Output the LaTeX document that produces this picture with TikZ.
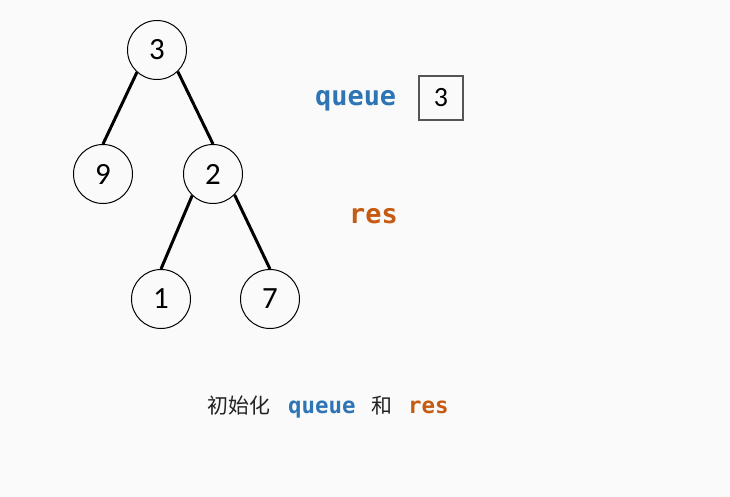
\documentclass[tikz,border=0pt]{standalone}
\usepackage{fontspec}
\setmainfont{Carlito}
\newfontfamily\codefont{DejaVu Sans Mono}
\newfontfamily\cjk{Noto Sans CJK SC}
\definecolor{bg}{HTML}{FAFAFA}
\definecolor{qblue}{HTML}{2E75B6}
\definecolor{rorange}{HTML}{C55A11}
\definecolor{boxgray}{HTML}{555555}
\definecolor{txt}{HTML}{222222}
\tikzset{
  treenode/.style={circle, draw=black, line width=1pt, minimum size=59bp, inner sep=0pt, font=\fontsize{31}{31}\selectfont},
  treeedge/.style={line width=3pt, black},
  qbox/.style={draw=boxgray, line width=1.2pt, minimum size=44bp, inner sep=0pt, font=\fontsize{28}{28}\selectfont},
  qlabel/.style={text=qblue, font=\codefont\bfseries\fontsize{27}{27}\selectfont, inner sep=0pt},
  rlabel/.style={text=rorange, font=\codefont\bfseries\fontsize{27}{27}\selectfont, inner sep=0pt},
}
\begin{document}
\begin{tikzpicture}[x=1bp,y=-1bp]
\fill[bg] (0,0) rectangle (730,497);
\useasboundingbox (0,0) rectangle (730,497);
\node[treenode] (n3) at (157,50) {3};
\node[treenode] (n9) at (103,174) {9};
\node[treenode] (n2) at (213,174) {2};
\node[treenode] (n1) at (161,299) {1};
\node[treenode] (n7) at (270,299) {7};
\draw[treeedge] (n3.228) -- (n9.north);
\draw[treeedge] (n3.314) -- (n2.north);
\draw[treeedge] (n2.226) -- (n1.north);
\draw[treeedge] (n2.316) -- (n7.north);
\node[qlabel, anchor=base west] (queue) at (315,106) {queue};
\node[qbox] (qb) at (441,98) {3};
\node[rlabel, anchor=base west] (res) at (349,224) {res};
\node[anchor=base west, inner sep=0pt, text=txt, font=\cjk\fontsize{21}{21}\selectfont] (cap1) at (207,413) {初始化};
\node[anchor=base west, inner sep=0pt, text=qblue, font=\codefont\bfseries\fontsize{22.5}{22.5}\selectfont] (cap2) at (288,413) {queue};
\node[anchor=base west, inner sep=0pt, text=txt, font=\cjk\fontsize{21}{21}\selectfont] (cap3) at (371,413) {和};
\node[anchor=base west, inner sep=0pt, text=rorange, font=\codefont\bfseries\fontsize{22.5}{22.5}\selectfont] (cap4) at (408,413) {res};
\end{tikzpicture}
\end{document}
